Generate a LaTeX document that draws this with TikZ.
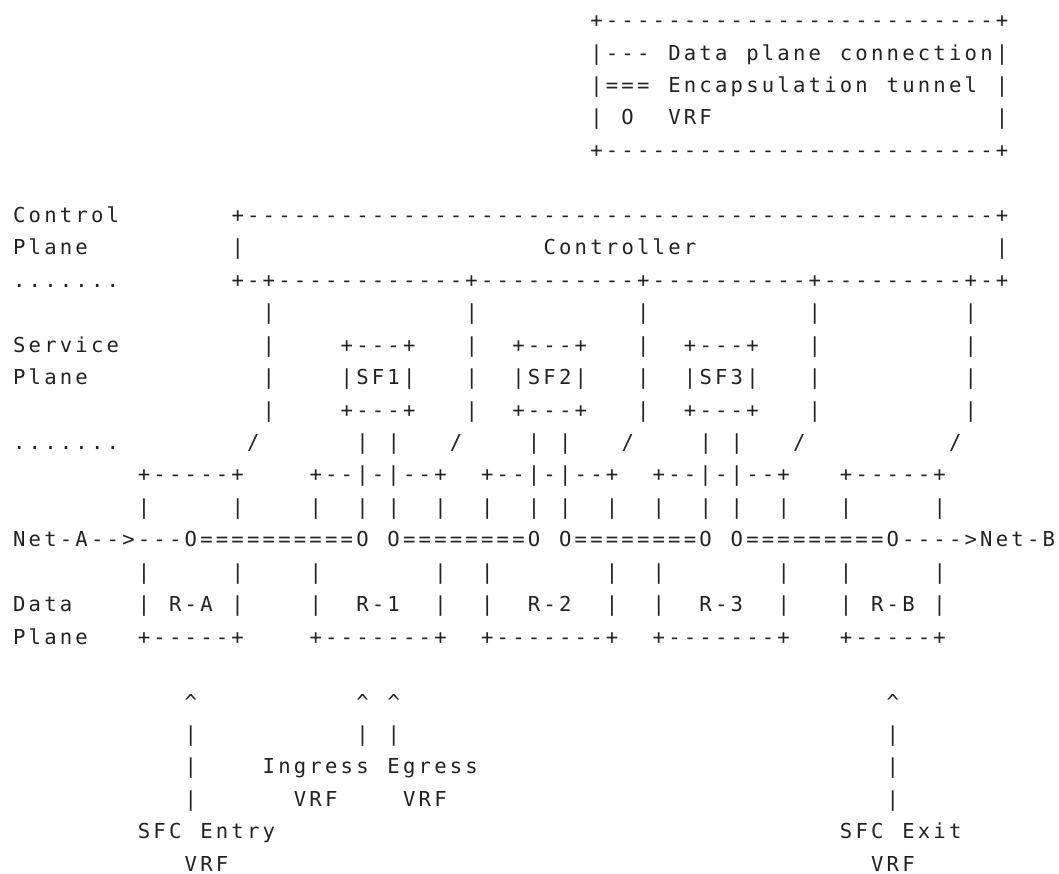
\documentclass[tikz,border=0pt]{standalone}
\usepackage{fontspec}
\usepackage{tikz}
\newfontfamily\asciifont{DejaVu Sans Mono}
\definecolor{ink}{HTML}{222222}
% one fixed-width cell per character
\newcommand{\asc}[1]{\ascnext#1\relax}
\newcommand{\ascnext}[1]{\ifx#1\relax\else\hbox to 15.6pt{\hss#1\hss}\expandafter\ascnext\fi}
\tikzset{ascii/.style={anchor=base west, inner sep=0pt, outer sep=0pt, text=ink,
  font=\asciifont\fontsize{20.6pt}{32pt}\selectfont}}

\begin{document}
\begin{tikzpicture}
  \useasboundingbox (0,0) rectangle (1059pt,-873pt);
  \begin{scope}[x=15.6pt, y=-32.45pt, shift={(11.5pt,-27.6pt)}]
  % legend
  \node[ascii] (keytop)    at (37,0) {\asc{+-------------------------+}};
  \node[ascii] (keydata)   at (37,1) {\asc{|---~Data~plane~connection|}};
  \node[ascii] (keytunnel) at (37,2) {\asc{|===~Encapsulation~tunnel~|}};
  \node[ascii] (keyvrf)    at (37,3) {\asc{|~O~~VRF~~~~~~~~~~~~~~~~~~|}};
  \node[ascii] (keybot)    at (37,4) {\asc{+-------------------------+}};
  % control plane
  \node[ascii] (ctlname)  at (0,6)  {\asc{Control}};
  \node[ascii] (ctltop)   at (14,6) {\asc{+------------------------------------------------+}};
  \node[ascii] (ctlplane) at (0,7)  {\asc{Plane}};
  \node[ascii] (ctlleft)  at (14,7) {\asc{|}};
  \node[ascii] (ctl)      at (34,7) {\asc{Controller}};
  \node[ascii] (ctlright) at (63,7) {\asc{|}};
  \node[ascii] (dotsup)   at (0,8)  {\asc{.......}};
  \node[ascii] (ctlbot)   at (14,8) {\asc{+-+------------+----------+----------+---------+-+}};
  \foreach \r in {9,...,12}
    \foreach \c in {16,29,40,51,61}
      \node[ascii] (wire\r-\c) at (\c,\r) {\asc{|}};
  % service plane
  \node[ascii] (svcname)  at (0,10) {\asc{Service}};
  \node[ascii] (svcplane) at (0,11) {\asc{Plane}};
  \foreach \n/\c in {1/21,2/32,3/43} {
    \node[ascii] (sf\n top) at (\c,10) {\asc{+---+}};
    \node[ascii] (sf\n)     at (\c,11) {\asc{|SF\n|}};
    \node[ascii] (sf\n bot) at (\c,12) {\asc{+---+}};
  }
  \node[ascii] (dotsdown) at (0,13) {\asc{.......}};
  \foreach \c in {15,28,39,50,60}
    \node[ascii] (slant\c) at (\c,13) {\asc{/}};
  \foreach \c in {22,24,33,35,44,46}
    \node[ascii] (leg\c) at (\c,13) {\asc{|}};
  % data plane
  \node[ascii] (ratop) at (8,14)  {\asc{+-----+}};
  \node[ascii] (rbtop) at (53,14) {\asc{+-----+}};
  \foreach \n/\c in {1/19,2/30,3/41} {
    \node[ascii] (r\n top) at (\c,14) {\asc{+--|-|--+}};
    \node[ascii] (r\n)     at (\c,18) {\asc{|~~R-\n~~|}};
    \node[ascii] (r\n bot) at (\c,19) {\asc{+-------+}};
  }
  \foreach \c in {8,14,19,22,24,27,30,33,35,38,41,44,46,49,53,59}
    \node[ascii] (side\c) at (\c,15) {\asc{|}};
  \node[ascii] (path) at (0,16) {\asc{Net-A-->---O==========O~O========O~O========O~O=========O---->Net-B}};
  \foreach \c in {8,14,19,27,30,38,41,49,53,59}
    \node[ascii] (low\c) at (\c,17) {\asc{|}};
  \node[ascii] (dataname)  at (0,18)  {\asc{Data}};
  \node[ascii] (ra)        at (8,18)  {\asc{|~R-A~|}};
  \node[ascii] (rb)        at (53,18) {\asc{|~R-B~|}};
  \node[ascii] (dataplane) at (0,19)  {\asc{Plane}};
  \node[ascii] (rabot)     at (8,19)  {\asc{+-----+}};
  \node[ascii] (rbbot)     at (53,19) {\asc{+-----+}};
  % VRF pointers
  \foreach \c in {11,22,24,56} {
    \node[ascii] (tip\c)  at (\c,21) {\asc{\textasciicircum}};
    \node[ascii] (stem\c) at (\c,22) {\asc{|}};
  }
  \foreach \c in {11,56} {
    \node[ascii] (stemb\c) at (\c,23) {\asc{|}};
    \node[ascii] (stemc\c) at (\c,24) {\asc{|}};
  }
  \node[ascii] (inout)    at (16,23) {\asc{Ingress~Egress}};
  \node[ascii] (invrf)    at (18,24) {\asc{VRF}};
  \node[ascii] (outvrf)   at (25,24) {\asc{VRF}};
  \node[ascii] (entry)    at (8,25)  {\asc{SFC~Entry}};
  \node[ascii] (exit)     at (53,25) {\asc{SFC~Exit}};
  \node[ascii] (entryvrf) at (11,26) {\asc{VRF}};
  \node[ascii] (exitvrf)  at (55,26) {\asc{VRF}};
  \end{scope}
\end{tikzpicture}
\end{document}
